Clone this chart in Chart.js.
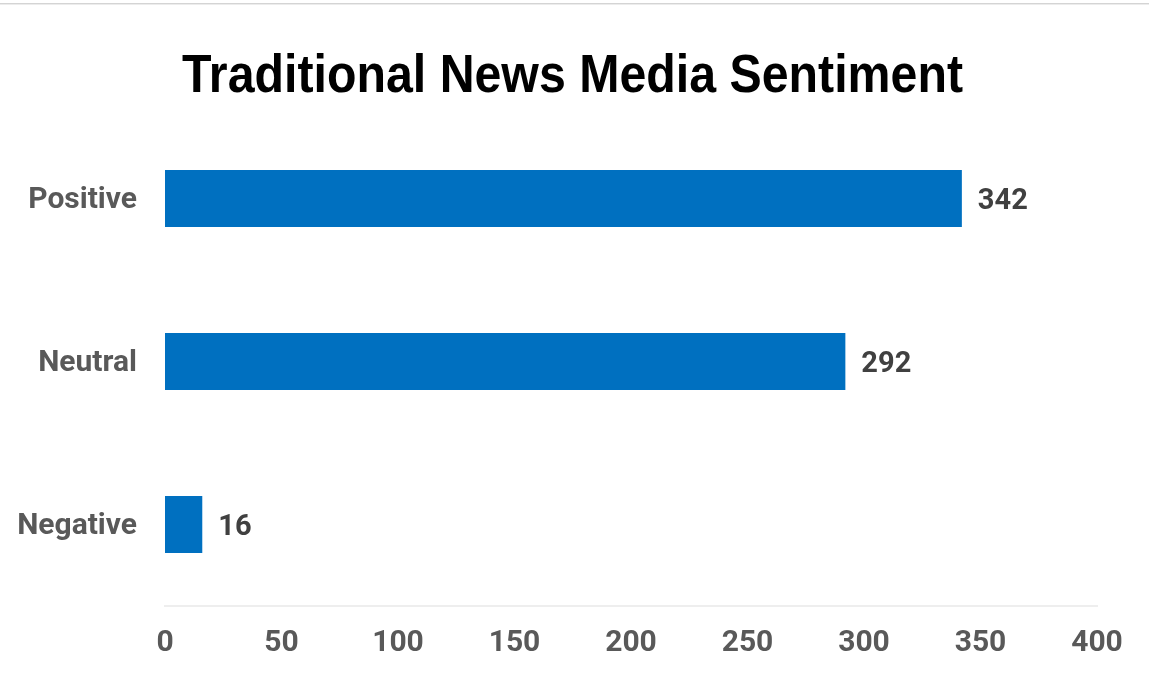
<!DOCTYPE html>
<html>
<head>
<meta charset="utf-8">
<script src="https://cdn.jsdelivr.net/npm/chart.js@4"></script>
<style>
  html, body { margin: 0; padding: 0; background: #fff; }
  #wrap { width: 1149px; height: 673px; position: relative; }
</style>
</head>
<body>
<div id="wrap"><canvas id="myChart1"></canvas></div>
<script>
const titleText = 'Traditional News Media Sentiment';
const categories = ['Positive', 'Neutral', 'Negative'];
const counts = [342, 292, 16];
const xTicks = [0, 50, 100, 150, 200, 250, 300, 350, 400];

const labelFont = 'Roboto, "Liberation Sans", sans-serif';

// white page + thin grey line at the very top
const pageBg = {
  id: 'pageBg',
  beforeDraw(chart) {
    const ctx = chart.ctx;
    ctx.save();
    ctx.fillStyle = '#ffffff';
    ctx.fillRect(0, 0, chart.width, chart.height);
    ctx.fillStyle = '#d4d4d4';
    ctx.fillRect(0, 3, chart.width, 1);
    ctx.fillStyle = '#ececec';
    ctx.fillRect(0, 4, chart.width, 1);
    ctx.restore();
  }
};

// condensed bold title (no narrow font installed, so squeeze it)
const narrowTitle = {
  id: 'narrowTitle',
  afterDraw(chart) {
    const ctx = chart.ctx;
    ctx.save();
    ctx.font = 'bold 53px "Liberation Sans", Arial, sans-serif';
    ctx.fillStyle = '#000000';
    ctx.textAlign = 'center';
    ctx.textBaseline = 'alphabetic';
    const w = ctx.measureText(titleText).width;
    const sx = 781 / w;
    ctx.translate(572.5, 92);
    ctx.scale(sx, 1);
    ctx.fillText(titleText, 0, 0);
    ctx.restore();
  }
};

// value labels at the end of each bar
const barValues = {
  id: 'barValues',
  afterDatasetsDraw(chart) {
    const ctx = chart.ctx;
    const meta = chart.getDatasetMeta(0);
    ctx.save();
    ctx.font = 'bold 29px ' + labelFont;
    ctx.fillStyle = '#404040';
    ctx.textAlign = 'left';
    ctx.textBaseline = 'middle';
    meta.data.forEach((bar, i) => {
      ctx.fillText(String(counts[i]), bar.x + 16, bar.y + 3);
    });
    ctx.restore();
  }
};

const data = {
  labels: categories,
  datasets: [{
    label: 'Sentiment',
    data: counts,
    backgroundColor: '#0070C0',
    borderWidth: 0,
    barPercentage: 0.35,
    categoryPercentage: 1
  }]
};

const config = {
  type: 'bar',
  data: data,
  options: {
    indexAxis: 'y',
    responsive: true,
    maintainAspectRatio: false,
    animation: false,
    layout: { padding: { left: 0, right: 52, top: 117, bottom: 0 } },
    plugins: {
      legend: { display: false },
      tooltip: { enabled: false },
      title: { display: false }
    },
    scales: {
      x: {
        min: 0,
        max: 400,
        afterBuildTicks(scale) {
          scale.ticks = xTicks.map(v => ({ value: v }));
        },
        afterFit(scale) { scale.height = 67; },
        grid: { display: false, drawTicks: false },
        border: { display: true, color: '#eeeeee', width: 2 },
        ticks: {
          color: '#595959',
          font: { family: labelFont, size: 30, weight: 'bold' },
          padding: 19
        }
      },
      y: {
        afterFit(scale) { scale.width = 165; },
        grid: { display: false, drawTicks: false },
        border: { display: false },
        ticks: {
          color: '#595959',
          font: { family: labelFont, size: 30, weight: 'bold' },
          padding: 28,
          labelOffset: 2
        }
      }
    }
  },
  plugins: [pageBg, narrowTitle, barValues]
};

var myChart = new Chart(document.getElementById('myChart1'), config);
</script>
</body>
</html>
